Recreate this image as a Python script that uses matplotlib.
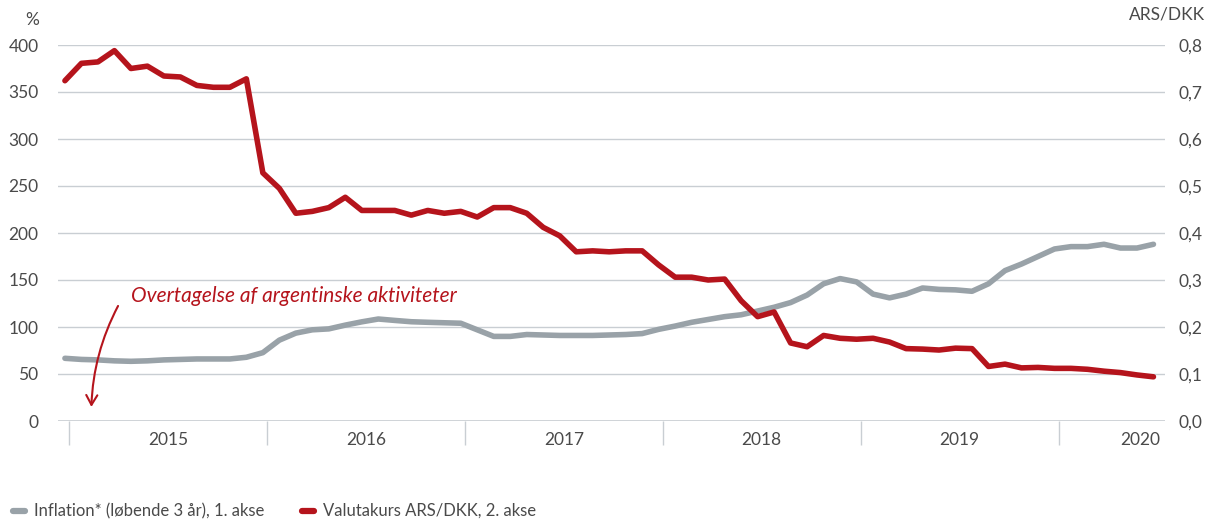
import numpy as np
import matplotlib
matplotlib.use("Agg")
import matplotlib.pyplot as plt
from matplotlib.patches import FancyArrowPatch

# Monthly observations, Jan 2015 - Jul 2020
inflation = [66.7, 65.5, 65, 64, 63.5, 64, 65, 65.5, 66, 66, 66, 67.8,
             72.7, 86, 93.5, 97, 98, 102, 105.5, 108.5, 107, 105.6, 105, 104.5,
             104, 97, 90, 90, 92, 91.5, 91, 91, 91, 91.5, 92, 93,
             97.5, 101, 105, 108, 111, 113, 117, 121, 126, 134, 146, 151.5,
             148, 135, 131, 135, 141.5, 140, 139.5, 138, 146, 160, 167, 175,
             183, 185.5, 185.5, 188, 184, 184, 188]
ars_dkk = [0.724, 0.761, 0.764, 0.788, 0.750, 0.755, 0.734, 0.732, 0.714, 0.710, 0.710, 0.728,
           0.528, 0.495, 0.442, 0.446, 0.454, 0.476, 0.448, 0.448, 0.448, 0.438, 0.448, 0.442,
           0.446, 0.434, 0.454, 0.454, 0.442, 0.412, 0.394, 0.360, 0.362, 0.360, 0.362, 0.362,
           0.332, 0.306, 0.306, 0.300, 0.302, 0.256, 0.222, 0.232, 0.166, 0.158, 0.182, 0.176,
           0.174, 0.176, 0.168, 0.154, 0.153, 0.151, 0.155, 0.154, 0.116, 0.121, 0.113, 0.114,
           0.112, 0.112, 0.110, 0.106, 0.103, 0.098, 0.094]
years = ["2015", "2016", "2017", "2018", "2019", "2020"]
left_ticks = [0, 50, 100, 150, 200, 250, 300, 350, 400]
right_ticks = ["0,0", "0,1", "0,2", "0,3", "0,4", "0,5", "0,6", "0,7", "0,8"]

RED = "#B5141C"
GREY = "#99A2A8"
GRID = "#C9CED3"
TXT = "#4A4A4A"

plt.rcParams["font.family"] = ["Lato", "DejaVu Sans"]
plt.rcParams["font.size"] = 12.5

fig = plt.figure(figsize=(12.07, 5.21), dpi=100)
ax = fig.add_axes([58 / 1207, 1 - 421 / 521, (1165 - 58) / 1207, 376 / 521])
ax2 = ax.twinx()

x = np.arange(len(inflation))
ax.plot(x, inflation, color=GREY, lw=4.0, solid_capstyle="round", solid_joinstyle="round", zorder=3)
ax2.plot(np.arange(len(ars_dkk)), ars_dkk, color=RED, lw=4.0, solid_capstyle="round",
         solid_joinstyle="round", zorder=3)

ax.set_xlim(-0.42, 66.7)
ax.set_ylim(0, 400)
ax2.set_ylim(0, 0.8)

ax.set_yticks(left_ticks)
ax.set_yticklabels([str(v) for v in left_ticks], color=TXT)
ax2.set_yticks(np.linspace(0, 0.8, 9))
ax2.set_yticklabels(right_ticks, color=TXT)
ax.tick_params(axis="y", length=0, pad=14)
ax2.tick_params(axis="y", length=0, pad=10)
ax.grid(axis="y", color=GRID, lw=1.0, zorder=0)
for a in (ax, ax2):
    for s in a.spines.values():
        s.set_visible(False)
ax.axhline(0, color=GRID, lw=1.2, zorder=1)

# year separators and labels
sep = [12 * k + 0.25 for k in range(6)]
ax.set_xticks(sep)
ax.set_xticklabels([])
ax.tick_params(axis="x", length=17, width=1.0, color=GRID)
label_pos = [6.25, 18.25, 30.25, 42.25, 54.25, 65.2]
for p, yr in zip(label_pos, years):
    ax.text(p, -20, yr, ha="center", va="center", color=TXT, fontsize=12.5)

fig.text(32 / 1207, 1 - 20 / 521, "%", ha="center", va="center", color=TXT, fontsize=12.5)
fig.text(1205 / 1207, 1 - 15 / 521, "ARS/DKK", ha="right", va="center", color=TXT, fontsize=12.5)

# annotation
ax.text(4.0, 133, "Overtagelse af argentinske aktiviteter", color=RED, fontsize=15,
        fontstyle="italic", ha="left", va="center", zorder=5)
arr = FancyArrowPatch((3.3, 125), (1.6, 12), connectionstyle="arc3,rad=0.12",
                      arrowstyle="->,head_length=7,head_width=4", color=RED, lw=1.5,
                      zorder=5)
ax.add_patch(arr)

# legend
ly = 1 - 511 / 521
fig.lines.append(plt.Line2D([13 / 1207, 25 / 1207], [ly] * 2, transform=fig.transFigure,
                            color=GREY, lw=4.5, solid_capstyle="round"))
fig.text(34 / 1207, ly, "Inflation* (løbende 3 år), 1. akse", ha="left", va="center",
         color=TXT, fontsize=12)
fig.lines.append(plt.Line2D([302 / 1207, 314 / 1207], [ly] * 2, transform=fig.transFigure,
                            color=RED, lw=4.5, solid_capstyle="round"))
fig.text(323 / 1207, ly, "Valutakurs ARS/DKK, 2. akse", ha="left", va="center",
         color=TXT, fontsize=12)

fig.savefig("out.png", dpi=100)
